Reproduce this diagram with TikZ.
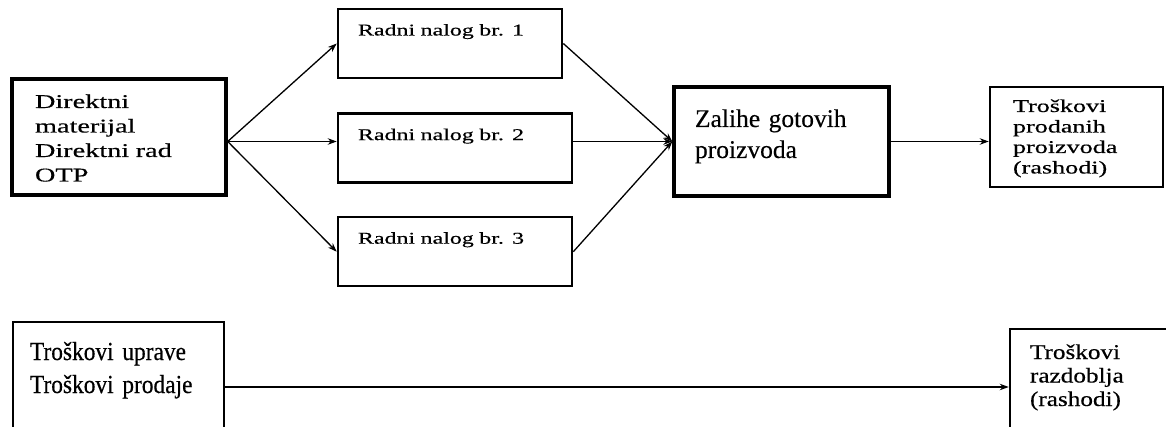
\documentclass[tikz,border=0pt]{standalone}
\usepackage{fontspec}
\setmainfont{Liberation Serif}
\newfontfamily\widefont[FakeStretch=1.45, WordSpace=0.7, FakeBold=0.4]{Liberation Serif}
\newfontfamily\slimfont[FakeStretch=0.9, FakeBold=0.4]{Liberation Serif}
\newfontfamily\halfwidefont[FakeStretch=1.2, FakeBold=0.4]{Liberation Serif}
\newfontfamily\plainfont[FakeBold=0.3]{Liberation Serif}
\usetikzlibrary{positioning, arrows.meta}

\begin{document}
\begin{tikzpicture}[x=1pt, y=-1pt,
  box/.style={draw, line width=2.6pt, inner ysep=0pt, align=left, fill=white},
  order/.style={box, inner xsep=20pt, text height=26.5pt, text depth=42.5pt, font=\fontsize{16.5}{20}\widefont},
  flow/.style={-{Stealth[length=9pt, width=6.5pt]}, line width=1.3pt}]
  \useasboundingbox (0,0) rectangle (1166,427);
  \clip (0,0) rectangle (1166,427);

  % izvori troskova
  \node[box, line width=3.4pt, inner xsep=23pt, text width=168pt, text height=29pt, text depth=87pt,
        font=\fontsize{19.5}{24.5}\widefont] (mat) at (119,137) {Direktni\\materijal\\Direktni rad\\OTP};

  % radni nalozi
  \node[order, text width=184pt] (ord1) at (450,43.5) {Radni nalog br. 1};
  \node[order, text width=194pt, below right=33pt and 0pt of ord1.south west] (ord2) {Radni nalog br. 2};
  \node[order, text width=194pt, below right=32pt and 0pt of ord2.south west] (ord3) {Radni nalog br. 3};

  \node[box, line width=3.4pt, inner xsep=21pt, text width=173pt, text height=40pt, text depth=69pt,
        font=\fontsize{25.5}{31}\plainfont] (stock) at (781.5,141.5) {Zalihe gotovih\\proizvoda};
  \node[box, inner xsep=23pt, text width=127pt, text height=25pt, text depth=75pt,
        font=\fontsize{18}{20.5}\widefont] (sold) at (1076.5,137) {Troškovi\\prodanih\\proizvoda\\(rashodi)};

  % troskovi razdoblja
  \node[box, inner xsep=17pt, text width=177pt, text height=38pt, text depth=92pt,
        font=\fontsize{26}{33}\slimfont] (admin) at (118.5,387) {Troškovi uprave\\Troškovi prodaje};
  \node[box, inner xsep=20pt, text width=140pt, text height=30pt, text depth=86pt,
        font=\fontsize{21}{23.5}\halfwidefont] (period) at (1100,387) {Troškovi\\razdoblja\\(rashodi)};

  \draw[flow] (mat.east |- stock.west) -- (ord1.west);
  \draw[flow] (mat.east |- stock.west) -- (ord2.west |- stock.west);
  \draw[flow] (mat.east |- stock.west) -- (ord3.west);
  \draw[flow] (ord1.east) -- (stock.west);
  \draw[flow] (ord2.east |- stock.west) -- (stock.west);
  \draw[flow] (ord3.east) -- (stock.west);
  \draw[flow] (stock.east) -- (stock.east -| sold.west);
  \draw[flow] (admin) -- (period);
\end{tikzpicture}
\end{document}
